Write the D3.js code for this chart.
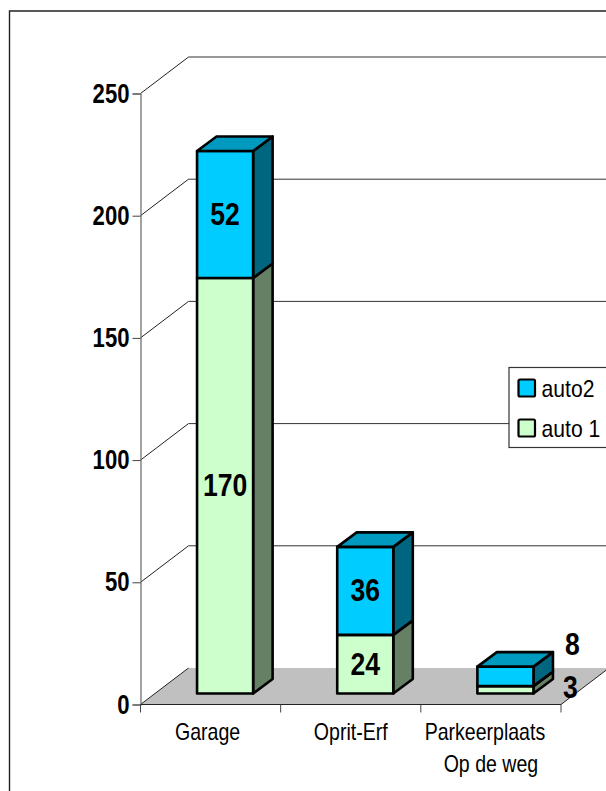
<!DOCTYPE html>
<html>
<head>
<meta charset="utf-8">
<script src="https://cdn.jsdelivr.net/npm/d3@7/dist/d3.min.js"></script>
<style>html,body{margin:0;padding:0;background:#fff;overflow:hidden}svg{display:block}text{font-family:"Liberation Sans",Arial,sans-serif;fill:#000}</style>
</head>
<body>
<svg id="c" width="606" height="791"></svg>
<script>
const categories = ["Garage", "Oprit-Erf", "Parkeerplaats"];
const categorySecondLine = ["", "", "Op de weg"];
const seriesNames = ["auto 1", "auto2"];
const auto1 = [170, 24, 3];
const auto2 = [52, 36, 8];
const yTicks = [0, 50, 100, 150, 200, 250];
const colors = {
  "auto 1": {front:"#CCFFCC", side:"#668066", top:"#99BF99"},
  "auto2":  {front:"#00CCFF", side:"#006680", top:"#0099BF"}
};

const svg = d3.select("#c");
const W = 606;
const y = d3.scaleLinear().domain([0, 250]).range([704.5, 93.5]);
const x = d3.scaleBand().domain(categories).range([140.5, 561]).paddingInner(0.6).paddingOuter(0.3);
const wall = {dx: 48, dy: -36.5};
const barFront = {dx: 14.5, dy: -11};
const barDepth = {dx: 19.5, dy: -14.5};

function poly(pts, fill, stroke, sw) {
  return svg.append("path").attr("d", "M" + pts.map(p => p.join(",")).join("L") + "Z")
    .attr("fill", fill).attr("stroke", stroke || "none").attr("stroke-width", sw || 0)
    .attr("stroke-linejoin", "round");
}
function line(x1, y1, x2, y2, stroke, sw) {
  svg.append("line").attr("x1", x1).attr("y1", y1).attr("x2", x2).attr("y2", y2)
    .attr("stroke", stroke).attr("stroke-width", sw);
}
function label(px, py, str, size, bold, sx) {
  svg.append("text").attr("transform", `translate(${px},${py}) scale(${sx},1)`)
    .attr("text-anchor", "middle").attr("font-size", size)
    .attr("font-weight", bold ? "bold" : "normal").text(str);
}

// outer frame (runs off the right and bottom of the picture)
svg.append("path").attr("d", `M9.5,${791}V11H${W}`).attr("fill", "none").attr("stroke", "#222").attr("stroke-width", 1.4);

// floor
const x0 = x.range()[0], x1 = x.range()[1], y0 = y(0);
poly([[x0, y0], [x0 + wall.dx, y0 + wall.dy], [x1 + wall.dx, y0 + wall.dy], [x1, y0]], "#C0C0C0");

// gridlines on side and back walls
yTicks.forEach(t => {
  const yy = y(t);
  line(x0, yy, x0 + wall.dx, yy + wall.dy, "#222", 1);
  if (t > 0) line(x0 + wall.dx, yy + wall.dy, W, yy + wall.dy, "#333", 1);
});
line(x1, y0, x1 + wall.dx, y0 + wall.dy, "#222", 1);

// value axis
const yAxis = svg.append("g").attr("transform", `translate(${x0},0)`)
  .call(d3.axisLeft(y).tickValues(yTicks).tickSize(8).tickPadding(3));
yAxis.select(".domain").attr("stroke", "#666").attr("stroke-width", 1.2);
yAxis.selectAll(".tick line").attr("stroke", "#444");
yAxis.selectAll(".tick text").remove();
yTicks.forEach(t => {
  svg.append("text").attr("transform", `translate(129.5,${y(t) + 9}) scale(0.82,1)`)
    .attr("text-anchor", "end").attr("font-size", 27).attr("font-weight", "bold").text(t);
});

// category axis
const xEdges = categories.map((_, i) => x0 + i * x.step());
xEdges.push(x1);
line(x0, y0, x1, y0, "#222", 1.2);
xEdges.forEach(e => line(e, y0, e, y0 + 8, "#444", 1));
categories.forEach((c, i) => {
  const cx = x(c) + x.bandwidth() / 2;
  const shift = c.length > 10 ? -6 : (i === 0 ? -3 : 0);
  label(cx + shift, 739.5, c, 23, false, 0.85);
  if (categorySecondLine[i]) label(cx, 771.5, categorySecondLine[i], 23, false, 0.85);
});

// bars
categories.forEach((c, i) => {
  const left = x(c) + barFront.dx, right = left + x.bandwidth();
  let acc = 0;
  [[seriesNames[0], auto1[i]], [seriesNames[1], auto2[i]]].forEach(([name, v], s) => {
    const yb = y(acc) + barFront.dy, yt = y(acc + v) + barFront.dy;
    const col = colors[name];
    const d = barDepth;
    poly([[right, yb], [right + d.dx, yb + d.dy], [right + d.dx, yt + d.dy], [right, yt]], col.side, "#000", 2.6);
    poly([[left, yb], [right, yb], [right, yt], [left, yt]], col.front, "#000", 2.6);
    if (s === 1) poly([[left, yt], [left + d.dx, yt + d.dy], [right + d.dx, yt + d.dy], [right, yt]], col.top, "#000", 2.6);
    acc += v;
  });
});

// data labels
categories.forEach((c, i) => {
  const cx = x(c) + x.bandwidth() / 2 + barFront.dx;
  const small = auto1[i] < 5;
  const ya = y(auto1[i] / 2) + barFront.dy;
  const yb = y(auto1[i] + auto2[i] / 2) + barFront.dy;
  label(small ? cx + 65 : cx, (small ? ya - 2 : ya) + 10.5, auto1[i], 32, true, 0.83);
  label(small ? cx + 67 : cx, (small ? yb - 32 : yb) + 10.5, auto2[i], 32, true, 0.83);
});

// legend (runs off the right of the picture)
svg.append("rect").attr("x", 509).attr("y", 367.5).attr("width", 120).attr("height", 80)
  .attr("fill", "#fff").attr("stroke", "#333").attr("stroke-width", 1.2);
[[seriesNames[1], 379.5], [seriesNames[0], 419.5]].forEach(([name, ly]) => {
  svg.append("rect").attr("x", 518.5).attr("y", ly).attr("width", 16.5).attr("height", 17)
    .attr("rx", 1.5).attr("fill", colors[name].front).attr("stroke", "#000").attr("stroke-width", 2.2);
  svg.append("text").attr("transform", `translate(541.5,${ly + 17}) scale(0.92,1)`)
    .attr("font-size", 23).text(name);
});
</script>
</body>
</html>
